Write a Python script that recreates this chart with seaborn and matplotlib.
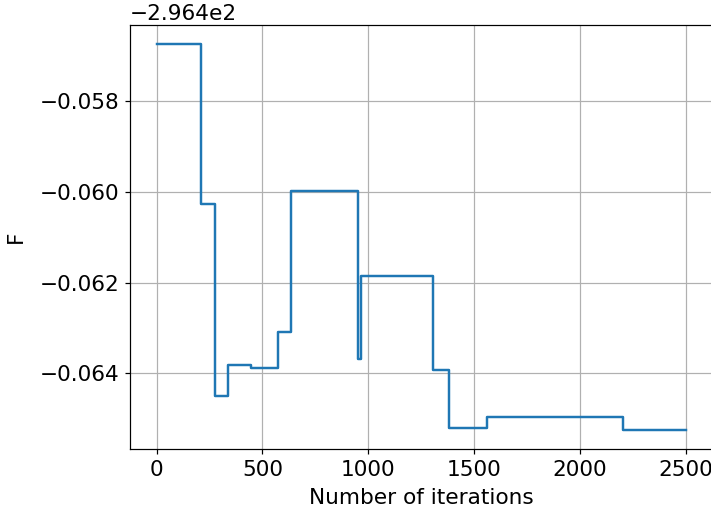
import matplotlib
matplotlib.use("Agg")
import matplotlib.pyplot as plt
import seaborn as sns
import pandas as pd

# iteration at which each level starts, and the level value (F)
iterations = [0, 209, 274, 337, 444, 574, 636, 950, 965, 1307, 1381, 1562, 2202, 2500]
offset_vals = [-0.05674, -0.06026, -0.06450, -0.06382, -0.06389, -0.06308, -0.05998,
               -0.06369, -0.06185, -0.06393, -0.06520, -0.06497, -0.06525, -0.06525]
base = -296.4
F = [base + v for v in offset_vals]

df = pd.DataFrame({"iter": iterations, "F": F})

DPI = 110
plt.rcParams["font.size"] = 14.2
fig = plt.figure(figsize=(711 / DPI, 515 / DPI), dpi=DPI)
ax = fig.add_axes([0.183, 0.1275, 0.819, 0.8240])
sns.lineplot(data=df, x="iter", y="F", ax=ax, drawstyle="steps-post",
             color="#1f77b4", linewidth=1.6, errorbar=None)
ax.grid(True, color="#b0b0b0", linewidth=0.8)
ax.set_xlabel("Number of iterations", labelpad=5)
ax.set_ylabel("F", labelpad=9)
ax.set_xticks([0, 500, 1000, 1500, 2000, 2500])
fig.savefig("out.png", dpi=DPI)
